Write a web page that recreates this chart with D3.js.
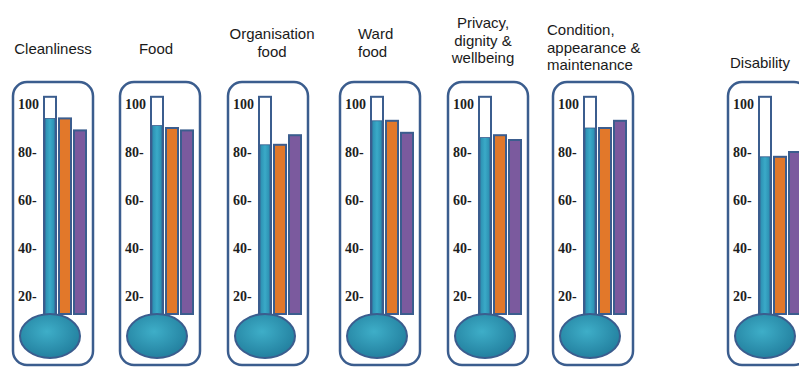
<!DOCTYPE html>
<html>
<head>
<meta charset="utf-8">
<script src="https://cdn.jsdelivr.net/npm/d3@7"></script>
<style>
  body { margin: 0; background: #fff; }
  svg { display: block; }
  .tick-label { font-family: "Liberation Serif", "Times New Roman", serif; font-weight: bold; font-size: 14px; fill: #1e1e1e; }
  .title { font-family: "Liberation Sans", Arial, sans-serif; font-size: 15px; fill: #1a1a1a; }
</style>
</head>
<body>
<div class="chart"></div>
<script>
const WIDTH = 799;
const HEIGHT = 367;

// data
const categories = ['Cleanliness', 'Food', 'Organisation food', 'Ward food',
  'Privacy, dignity & wellbeing', 'Condition, appearance & maintenance', 'Disability'];
const titleLines = [
  ['Cleanliness'], ['Food'], ['Organisation', 'food'], ['Ward', 'food'],
  ['Privacy,', 'dignity &', 'wellbeing'], ['Condition,', 'appearance &', 'maintenance'],
  ['Disability']
];
const seriesBlue = [94, 91, 83, 93, 86, 90, 78];
const seriesOrange = [94, 90, 83, 93, 87, 90, 78];
const seriesPurple = [89, 89, 87, 88, 85, 93, 80];
const tickValues = [20, 40, 60, 80, 100];
const tickLabels = ['20-', '40-', '60-', '80-', '100'];

// layout
const panelLeft = [13, 120, 228, 340, 448, 553, 728];
const titleDx = [40, 36, 44, 18, 35, -6, 32];
const titleAnchor = ['middle', 'middle', 'middle', 'start', 'middle', 'start', 'middle'];
const titleY = [54, 54, 39, 39, 28, 35, 68];
const LINE_H = 17.5;
const CARD_TOP = 82;
const CARD_W = 80;
const CARD_H = 283;
const OUTLINE = '#3b5d8e';

const svg = d3.select('.chart').append('svg')
    .attr('width', WIDTH)
    .attr('height', HEIGHT);

const defs = svg.append('defs');
const tubeGrad = defs.append('linearGradient').attr('id', 'tube')
    .attr('x1', '0%').attr('x2', '100%').attr('y1', '0%').attr('y2', '0%');
tubeGrad.append('stop').attr('offset', '0%').attr('stop-color', '#2b8db0');
tubeGrad.append('stop').attr('offset', '50%').attr('stop-color', '#3aaac8');
tubeGrad.append('stop').attr('offset', '100%').attr('stop-color', '#2b8db0');
const bulbGrad = defs.append('radialGradient').attr('id', 'bulb')
    .attr('cx', '45%').attr('cy', '40%').attr('r', '60%');
bulbGrad.append('stop').attr('offset', '0%').attr('stop-color', '#3eaec8');
bulbGrad.append('stop').attr('offset', '100%').attr('stop-color', '#23809f');

const y = d3.scaleLinear().domain([0, 100]).range([344, 104]);
const x = d3.scaleBand().domain(['blue', 'orange', 'purple'])
    .range([31, 73]).paddingInner(0.2);
const BAR_BOTTOM = 314;
const bulbCx = x('blue') + x.bandwidth() / 2;
const bulbCy = 336;

const panels = svg.selectAll('g.panel').data(categories).enter()
    .append('g')
    .attr('class', 'panel')
    .attr('transform', (d, i) => `translate(${panelLeft[i]},0)`);

// titles
panels.append('text')
    .attr('class', 'title')
    .attr('x', (d, i) => titleDx[i])
    .attr('y', (d, i) => titleY[i])
    .attr('text-anchor', (d, i) => titleAnchor[i])
    .each(function(d, i) {
      d3.select(this).selectAll('tspan').data(titleLines[i]).enter()
          .append('tspan')
          .attr('x', titleDx[i])
          .attr('dy', (t, j) => j === 0 ? 0 : LINE_H)
          .text(t => t);
    });

// card
panels.append('rect')
    .attr('x', 0)
    .attr('y', CARD_TOP)
    .attr('width', CARD_W)
    .attr('height', CARD_H)
    .attr('rx', 14)
    .style('fill', '#fff')
    .style('stroke', OUTLINE)
    .style('stroke-width', 2.5);

// tick labels
panels.selectAll('text.tick-label').data(tickValues).enter()
    .append('text')
    .attr('class', 'tick-label')
    .attr('x', 5)
    .attr('y', v => y(v))
    .attr('dy', '0.35em')
    .text((v, j) => tickLabels[j]);

// tube outline (empty part)
panels.append('rect')
    .attr('x', x('blue'))
    .attr('y', y(103))
    .attr('width', x.bandwidth())
    .attr('height', bulbCy - y(103))
    .style('fill', '#fff')
    .style('stroke', OUTLINE)
    .style('stroke-width', 2);

// tube fill
panels.append('rect')
    .attr('x', x('blue') + 1)
    .attr('y', (d, i) => y(seriesBlue[i]))
    .attr('width', x.bandwidth() - 2)
    .attr('height', (d, i) => bulbCy - y(seriesBlue[i]))
    .style('fill', 'url(#tube)')
    .style('stroke', OUTLINE)
    .style('stroke-width', 0.8);

// orange and purple bars
panels.append('rect')
    .attr('x', x('orange'))
    .attr('y', (d, i) => y(seriesOrange[i]))
    .attr('width', x.bandwidth())
    .attr('height', (d, i) => BAR_BOTTOM - y(seriesOrange[i]))
    .style('fill', '#e2782a')
    .style('stroke', OUTLINE)
    .style('stroke-width', 2);

panels.append('rect')
    .attr('x', x('purple'))
    .attr('y', (d, i) => y(seriesPurple[i]))
    .attr('width', x.bandwidth())
    .attr('height', (d, i) => BAR_BOTTOM - y(seriesPurple[i]))
    .style('fill', '#7b5a9e')
    .style('stroke', OUTLINE)
    .style('stroke-width', 2);

// bulb
panels.append('ellipse')
    .attr('cx', bulbCx)
    .attr('cy', bulbCy)
    .attr('rx', 30)
    .attr('ry', 22)
    .style('fill', 'url(#bulb)')
    .style('stroke', OUTLINE)
    .style('stroke-width', 2);
</script>
</body>
</html>
